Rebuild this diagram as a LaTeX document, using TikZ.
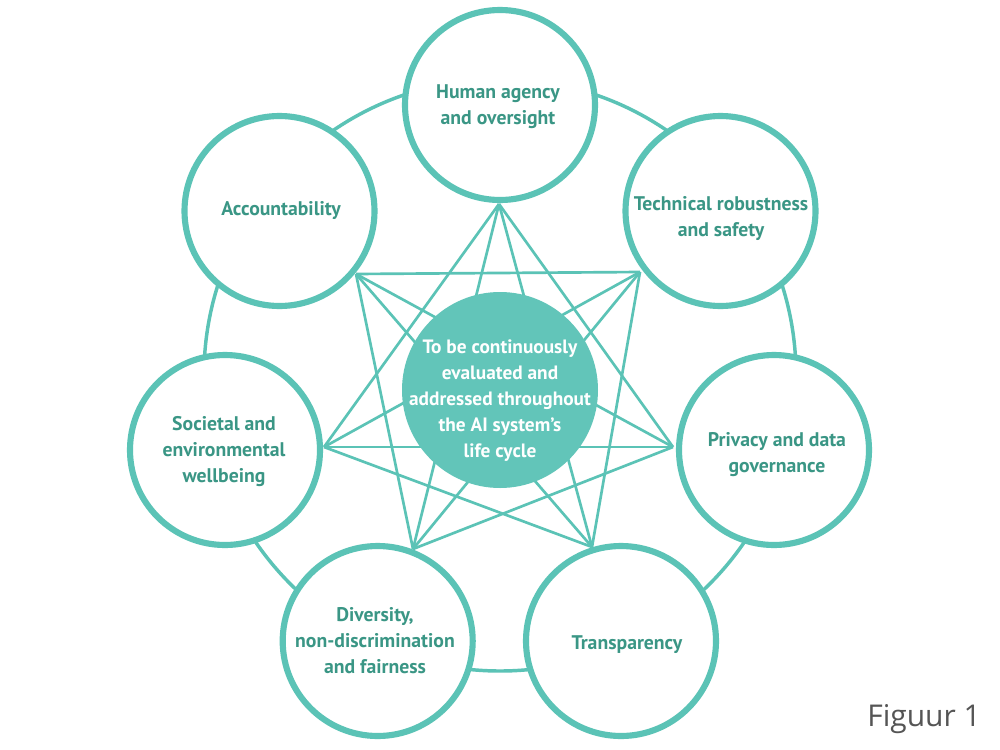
\documentclass[tikz,border=0pt]{standalone}
\usepackage{fontspec}
\setmainfont{PT Sans}
\newfontfamily\figfont{Open Sans}
\definecolor{tealline}{HTML}{5BC3B6}
\definecolor{tealtext}{HTML}{3A9685}
\definecolor{tealfill}{HTML}{62C5B9}
\definecolor{figgray}{HTML}{555555}
\begin{document}
\begin{tikzpicture}[x=0.75pt,y=-0.75pt,
  ringline/.style={draw=tealline, line width=2.6pt},
  starline/.style={draw=tealline, line width=2pt},
  pillar/.style={circle, draw=tealline, fill=white, line width=4.6pt, minimum size=142.5pt, inner sep=0pt},
  core/.style={circle, fill=tealfill, minimum size=147pt, inner sep=0pt},
  lbl/.style={text=tealtext, font=\bfseries\fontsize{14.8}{19.5}\selectfont, align=center, inner sep=0pt},
  corelbl/.style={text=white, font=\bfseries\fontsize{14.5}{19.5}\selectfont, align=center, inner sep=0pt}]
\useasboundingbox (0,0) rectangle (1000,750);
\fill[white] (0,0) rectangle (1000,750);
% outer ring
\draw[ringline] (500,375) circle[radius=296];
% star vertices
\coordinate (vH) at (499,204);
\coordinate (vT) at (640,272);
\coordinate (vP) at (673,447);
\coordinate (vR) at (592,547);
\coordinate (vD) at (413,549);
\coordinate (vS) at (324,447);
\coordinate (vA) at (356,274);
% star lines
\draw[starline] (vH) -- (vP);
\draw[starline] (vH) -- (vR);
\draw[starline] (vH) -- (vD);
\draw[starline] (vH) -- (vS);
\draw[starline] (vT) -- (vR);
\draw[starline] (vT) -- (vD);
\draw[starline] (vT) -- (vS);
\draw[starline] (vT) -- (vA);
\draw[starline] (vP) -- (vD);
\draw[starline] (vP) -- (vS);
\draw[starline] (vP) -- (vA);
\draw[starline] (vR) -- (vS);
\draw[starline] (vR) -- (vA);
\draw[starline] (vD) -- (vA);
% circles
\node[pillar] (hum) at (500,105) {};
\node[pillar] (tech) at (720.5,211) {};
\node[pillar] (priv) at (774,450) {};
\node[pillar] (trans) at (621,641) {};
\node[pillar] (div) at (377.7,641) {};
\node[pillar] (soc) at (225,450) {};
\node[pillar] (acc) at (279.5,211) {};
\node[core] (core) at (500,390) {};
% labels
\node[lbl] (humT) at (498,106.5) {Human agency\\and oversight};
\node[lbl] (techT) at (721,218.5) {Technical robustness\\and safety};
\node[lbl] (privT) at (777,455) {Privacy and data\\governance};
\node[lbl] (transT) at (627,645) {Transparency};
\node[lbl] (divT) at (375,641) {Diversity,\\non-discrimination\\and fairness};
\node[lbl] (socT) at (224,451.5) {Societal and\\environmental\\wellbeing};
\node[lbl] (accT) at (281,211) {Accountability};
\node[corelbl] (coreT) at (500,400.5) {To be continuously\\evaluated and\\addressed throughout\\the AI system’s\\life cycle};
\node[anchor=base west, inner sep=0pt, text=figgray, font=\figfont\fontsize{22.5}{26}\selectfont] (fig) at (867,726) {Figuur 1};
\end{tikzpicture}
\end{document}
